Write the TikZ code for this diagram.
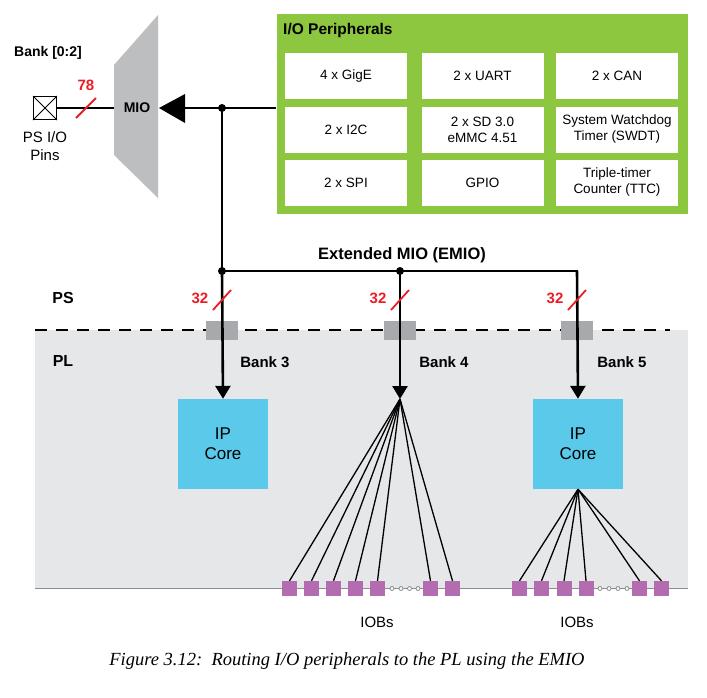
\documentclass[tikz,border=0pt]{standalone}
\usepackage{fontspec}
\setmainfont{Liberation Sans}
\newfontfamily\capfont{Liberation Serif}
\usetikzlibrary{arrows.meta}
\definecolor{pgreen}{HTML}{8DC63F}
\definecolor{pcyan}{HTML}{5BC9E9}
\definecolor{ppurple}{HTML}{B36CB0}
\definecolor{mioGray}{HTML}{BDBEC0}
\definecolor{plbg}{HTML}{E6E7E8}
\definecolor{connGray}{HTML}{A7A9AC}
\definecolor{pred}{HTML}{ED1C24}
\definecolor{dotGray}{HTML}{8A8C8E}
\begin{document}
\begin{tikzpicture}[x=1pt,y=-1pt,
  lbl/.style={font=\fontsize{14}{16}\selectfont\bfseries, inner sep=0pt},
  banklbl/.style={font=\fontsize{15}{17}\selectfont\bfseries, inner sep=0pt},
  big/.style={font=\fontsize{16}{18}\selectfont\bfseries, inner sep=0pt},
  redlbl/.style={font=\fontsize{15}{17}\selectfont\bfseries, text=pred, inner sep=0pt},
  slash/.style={draw=pred, line width=1.8pt},
  bus/.style={draw=black, line width=2.6pt},
  busarrow/.style={bus, -{Triangle[length=13pt,width=15pt]}},
  periphbox/.style={fill=white, minimum width=122pt, minimum height=46pt, inner sep=0pt, align=center, font=\fontsize{13.5}{16}\selectfont},
  ipcore/.style={fill=pcyan, minimum width=90pt, minimum height=90pt, inner sep=0pt, align=center, font=\fontsize{17}{20}\selectfont},
  iob/.style={fill=ppurple, minimum width=15pt, minimum height=15pt, inner sep=0pt},
  fan/.style={draw=black, line width=1.3pt},
  ddot/.style={circle, draw=dotGray, fill=white, line width=0.8pt, minimum size=4pt, inner sep=0pt},
  conn/.style={fill=connGray, minimum width=32pt, minimum height=19pt, inner sep=0pt}
]
\useasboundingbox (0,0) rectangle (707,697);
\fill[white] (0,0) rectangle (707,697);

% PL background
\fill[plbg] (35,330) rectangle (688,588);
\draw[line width=1.5pt, dash pattern=on 12pt off 9pt] (35,330) -- (670,330);
\draw[draw=dotGray, line width=1pt] (35,588) -- (688,588);

% PS / PL labels
\node[big] (ps) at (63,298) {PS};
\node[big] (pl) at (63,361) {PL};

% Bank [0:2] and pins
\node[lbl] (bank02) at (48,53) {Bank [0:2]};
\node[draw=black, line width=1pt, fill=white, minimum size=23pt, inner sep=0pt] (pins) at (45,108) {};
\draw[line width=0.8pt] (pins.north west) -- (pins.south east) (pins.north east) -- (pins.south west);
\node[align=center, inner sep=0pt, font=\fontsize{15}{18}\selectfont] (pinslbl) at (45,146) {PS I/O\\Pins};

% MIO trapezoid
\fill[mioGray] (114,65) -- (158,15) -- (158,198) -- (114,155) -- cycle;
\node[lbl] (mio) at (137,108) {MIO};
\coordinate (mioL) at (114,108);
\draw[bus, line width=2.4pt] (pins.east) -- (mioL);
\draw[slash] (76,118) -- (96,98);
\node[redlbl] (n78) at (86,85) {78};

% I/O Peripherals
\node[fill=pgreen, minimum width=411pt, minimum height=200pt, inner sep=0pt] (periph) at (482,114) {};
\node[font=\fontsize{15.5}{17}\selectfont\bfseries, anchor=west, inner sep=0pt] (periphlbl) at (283,30) {I/O Peripherals};
\node[periphbox] (gige) at (346,76) {4 x GigE};
\node[periphbox] (uart) at (482.5,76) {2 x UART};
\node[periphbox] (can) at (617,76) {2 x CAN};
\node[periphbox] (i2c) at (346,129.5) {2 x I2C};
\node[periphbox] (sd) at (482.5,129.5) {2 x SD 3.0\\eMMC 4.51};
\node[periphbox] (swdt) at (617,129.5) {System Watchdog\\Timer (SWDT)};
\node[periphbox] (spi) at (346,182.5) {2 x SPI};
\node[periphbox] (gpio) at (482.5,182.5) {GPIO};
\node[periphbox] (ttc) at (617,182.5) {Triple-timer\\Counter (TTC)};

% connection from peripherals to MIO
\coordinate (j0) at (222,108);
\coordinate (arrbase) at (185,108);
\coordinate (arrtip) at (159,108);
\draw[bus] (periph.west |- j0) -- (arrbase);
\fill[black] (arrtip) -- (185,94) -- (185,123) -- cycle;

% EMIO bus
\coordinate (e3) at (222,271);
\coordinate (e4) at (400,271);
\coordinate (e5) at (577,271);
\node[inner sep=0pt, font=\fontsize{16.5}{18}\selectfont\bfseries] (emio) at (402,255) {Extended MIO (EMIO)};

% connectors squares on boundary
\node[conn] (c3) at (222,330) {};
\node[conn] (c4) at (400,330) {};
\node[conn] (c5) at (577,330) {};

% bank labels
\node[banklbl] (b3) at (265,362) {Bank 3};
\node[banklbl] (b4) at (444,362) {Bank 4};
\node[banklbl] (b5) at (622,362) {Bank 5};

% IP cores
\node[ipcore] (ip3) at (223,444) {IP\\Core};
\node[ipcore] (ip5) at (578,444) {IP\\Core};
\coordinate (f4) at (400,399);

% bus lines
\draw[bus] (j0) -- (e3);
\draw[bus, line cap=rect] (e3) -- (e4) -- (e5) -- ++(0,20);
\draw[busarrow] (e3) -- (ip3.north);
\draw[busarrow] (e4) -- (f4);
\draw[busarrow] (e5) -- (ip5.north);
\fill (j0) circle (4pt);
\fill (e3) circle (4pt);
\fill (e4) circle (4pt);

% 32 slashes
\foreach \x/\n in {222/3,400/4,577/5}{
  \draw[slash] (\x-9,310) -- (\x+9,290);
  \node[redlbl] (w\n) at (\x-22,298) {32};
}

% IOBs bank 4
\foreach \i/\x in {1/289.5,2/311.5,3/333.5,4/355.5,5/377.5,6/430.5,7/452.5}{
  \node[iob] (a\i) at (\x,588.5) {};
  \draw[fan] (f4) -- (a\i.north);
}
\foreach \x in {392,401,409.5,418}{ \node[ddot] at (\x,588.5) {}; }
\node[inner sep=0pt, font=\fontsize{15}{17}\selectfont] (iobs4) at (377,622) {IOBs};

% IOBs bank 5
\foreach \i/\x in {1/519.5,2/541.5,3/564,4/586,5/639.5,6/661.5}{
  \node[iob] (b\i) at (\x,588.5) {};
  \draw[fan] (ip5.south) -- (b\i.north);
}
\foreach \x in {600,609,618,627}{ \node[ddot] at (\x,588.5) {}; }
\node[inner sep=0pt, font=\fontsize{15}{17}\selectfont] (iobs5) at (577,622) {IOBs};

% caption
\node[inner sep=0pt, font=\capfont\itshape\fontsize{18.5}{21}\selectfont] (cap) at (347,661) {Figure 3.12:\ \ Routing I/O peripherals to the PL using the EMIO};
\end{tikzpicture}
\end{document}
